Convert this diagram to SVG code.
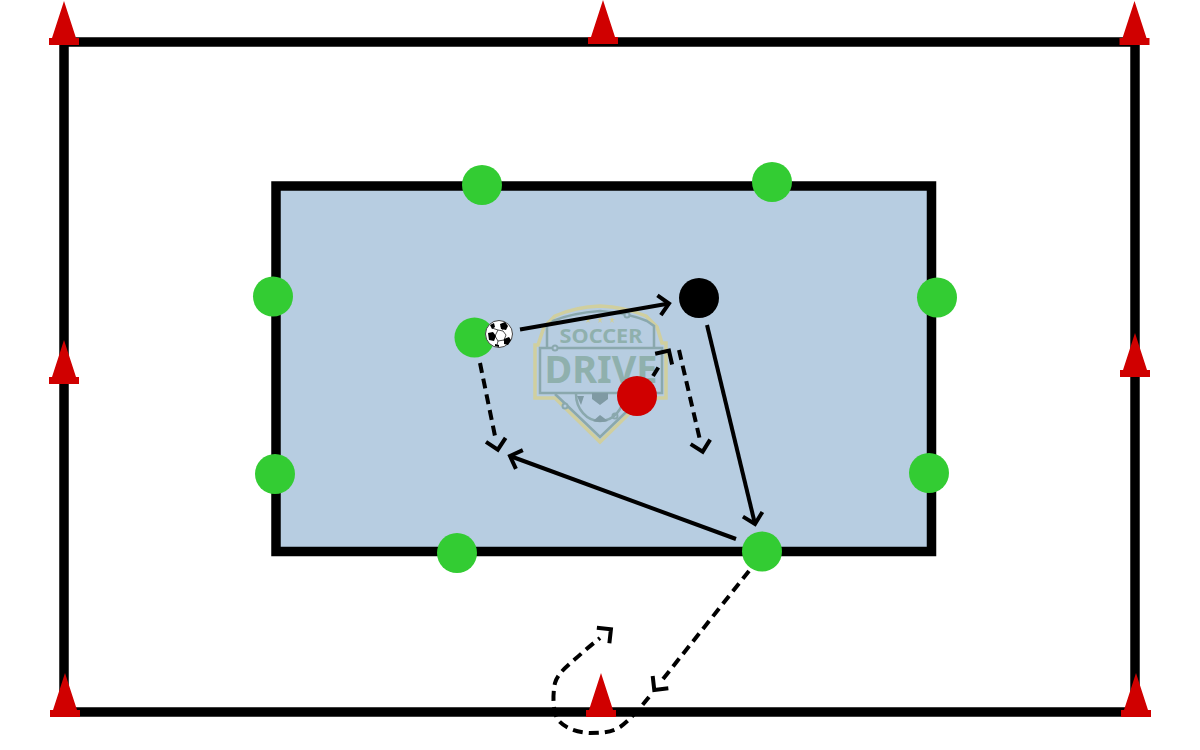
<svg xmlns="http://www.w3.org/2000/svg" width="1200" height="750" viewBox="0 0 1200 750">
<style>
.field{fill:none;stroke:#000;stroke-width:9.500}
.cone-top{fill:#d00000}
.g{fill:#33cc33}
.ln{fill:none;stroke:#000;stroke-width:4}
.dash{stroke-dasharray:10 6}
.logo-y{fill:none;stroke:#d0cf9f;stroke-width:3.500}
.logo-g{fill:none;stroke:#8aa8ad;stroke-width:2.500}
.logo-d{fill:#b7cde1;stroke:#8aa8ad;stroke-width:2}
.logo-t{font-family:"Noto Sans","Liberation Sans",sans-serif;font-weight:700;fill:#8fb0ad;text-anchor:middle}
</style>
<defs>
<g id="cone"><path class="cone-top" d="M0 0 L-12 37 H-15 V44 H15 V37 H12 Z"/></g>
<marker id="head" viewBox="0 0 40 40" refX="18" refY="20" markerWidth="40" markerHeight="40" markerUnits="userSpaceOnUse" orient="auto"><path d="M8 10 L18 20 L8 30" fill="none" stroke="#000" stroke-width="4"/></marker>
<marker id="head-d" viewBox="0 0 40 40" refX="4" refY="20" markerWidth="40" markerHeight="40" markerUnits="userSpaceOnUse" orient="auto"><path d="M8 10 L18 20 L8 30" fill="none" stroke="#000" stroke-width="4"/></marker>
</defs>
<rect width="1200" height="750" fill="#fff"/>
<g id="outer-field"><rect class="field" x="64" y="42" width="1071" height="670"/></g>
<g id="inner-field"><rect x="276" y="186" width="655.500" height="365.500" fill="#b7cde1"/><rect class="field" x="276" y="186" width="655.500" height="365.500"/></g>
<g id="logo">
<path class="logo-y" d="M600 306 Q575 307 555 316 L544 327 L538 345 H535 V398 H555 L600 442 L645 398 H666 V343 H662 L657 327 L646 316 Q625 307 600 306 Z"/>
<path class="logo-g" d="M600 311 Q572 313 553 321 L547 326 V348 M600 311 Q628 313 647 321 L654 326 V348"/>
<rect class="logo-g" x="540" y="348" width="122" height="45"/>
<path class="logo-g" d="M555 394 L600 437 L645 394"/>
<circle class="logo-d" cx="555" cy="348" r="2.500"/><circle class="logo-d" cx="627" cy="315" r="2.500"/><circle class="logo-d" cx="565" cy="406" r="2.500"/><circle class="logo-d" cx="615" cy="416" r="2.500"/>
<path d="M576 394 A24 27 0 0 0 624 394" fill="none" stroke="#8aa8ad" stroke-width="2.500"/>
<path d="M592 393 H608 V399 L600 405 L592 399 Z M593 421 L600 415 L608 421 Q600 423 593 421 Z M577 396 L584 396 L581 405 Z" fill="#7f9aa3"/>
<path d="M588 317 l1 2 h2 l-2 1.500 l1 2.500 l-2 -1.500 l-2 1.500 l1 -2.500 l-2 -1.500 h2 Z M600 317 l1 2 h2 l-2 1.500 l1 2.500 l-2 -1.500 l-2 1.500 l1 -2.500 l-2 -1.500 h2 Z M612 317 l1 2 h2 l-2 1.500 l1 2.500 l-2 -1.500 l-2 1.500 l1 -2.500 l-2 -1.500 h2 Z" fill="#cfcf9f"/>
<text class="logo-t" x="601" y="343" font-size="19" textLength="83" lengthAdjust="spacingAndGlyphs">SOCCER</text>
<text class="logo-t" x="601" y="383" font-size="38" textLength="113" lengthAdjust="spacingAndGlyphs">DRIVE</text>
</g>
<g id="connectors">
<path class="ln" d="M520 329.500 L669 303.500" marker-end="url(#head)"/>
<path class="ln" d="M707 325 L755 524" marker-end="url(#head)"/>
<path class="ln" d="M736 539 L510 456" marker-end="url(#head)"/>
<path class="ln dash" d="M480 363 L495 436" marker-end="url(#head-d)"/>
<path class="ln dash" d="M653 376 L661.500 362.500" marker-end="url(#head-d)"/>
<path class="ln dash" d="M679 350 L699.500 438" marker-end="url(#head-d)"/>
<path class="ln dash" d="M749 571 L663 679" marker-end="url(#head-d)"/>
<path class="ln dash" d="M649 697 C640 708 630 720 620 727 C610 733 600 733 590 733 C575 732 565 728 558 720 C552 710 553 692 555 683 C558 672 570 664 582 653 C590 646 595 642 600 638" marker-end="url(#head-d)"/>
</g>
<g id="cone-1"><use href="#cone" x="64" y="1"/></g>
<g id="cone-2"><use href="#cone" x="603" y="0"/></g>
<g id="cone-3"><use href="#cone" x="1134.500" y="1"/></g>
<g id="cone-4"><use href="#cone" x="64" y="340"/></g>
<g id="cone-5"><use href="#cone" x="1135" y="333"/></g>
<g id="cone-6"><use href="#cone" x="65" y="673"/></g>
<g id="cone-7"><use href="#cone" x="601" y="673"/></g>
<g id="cone-8"><use href="#cone" x="1136" y="673"/></g>
<g id="p1"><circle class="g" cx="482" cy="185" r="20"/></g>
<g id="p2"><circle class="g" cx="772" cy="182" r="20"/></g>
<g id="p3"><circle class="g" cx="273" cy="296.500" r="20"/></g>
<g id="p4"><circle class="g" cx="937" cy="297.500" r="20"/></g>
<g id="p5"><circle class="g" cx="474.500" cy="337.500" r="20"/></g>
<g id="p6"><circle class="g" cx="275" cy="474" r="20"/></g>
<g id="p7"><circle class="g" cx="929" cy="473" r="20"/></g>
<g id="p8"><circle class="g" cx="457" cy="553" r="20"/></g>
<g id="p9"><circle class="g" cx="762" cy="551.500" r="20"/></g>
<g id="defender"><circle cx="699" cy="298" r="20" fill="#000"/></g>
<g id="attacker"><circle cx="637" cy="396" r="20" fill="#d00000"/></g>
<g id="ball">
<circle cx="499" cy="334" r="13.500" fill="#fff" stroke="#444" stroke-width="1"/>
<path d="M498 330 L503 331 L506 335 L504 340 L498 341 L495 336 Z M503 330 L501 326 M492 328 L498 330 M495 336 L491 335 M504 340 L505 343 M498 341 L497 345" fill="none" stroke="#222" stroke-width="0.800"/>
<path d="M500 324 L505 322 L508 326 L506 330 L501 329 Z M488 333 L493 332 L496 336 L494 341 L489 340 Z M504 339 L509 337 L511 340 L508 345 L504 344 Z M490 325 L494 323 L495 327 L492 329 Z M495 344 L499 345 L499 347 L495 346 Z" fill="#000"/>
</g>
</svg>
